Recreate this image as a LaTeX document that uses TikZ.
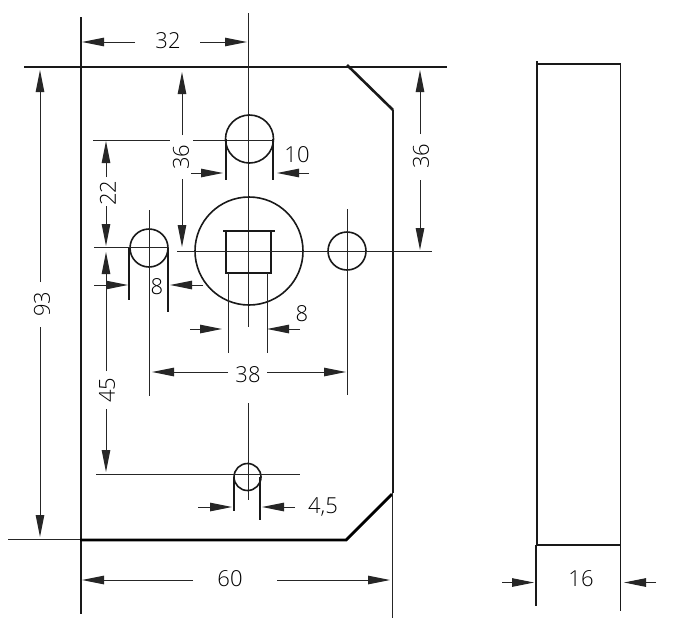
\documentclass[tikz,border=0pt]{standalone}
\usepackage{fontspec}
\setmainfont{Open Sans Light}[UprightFont=*]
\usetikzlibrary{arrows.meta}
\tikzset{
 thin line/.style={line width=1pt,black!85},
 outline/.style={line width=2pt,black!90},
 heavy/.style={line width=2.8pt,black},
 hole/.style={line width=1.6pt,black!90},
 dimarrow/.style={line width=1pt,black!85,-{Triangle[length=22pt,width=8.5pt]}},
 dimtext/.style={font=\fontsize{22}{22}\selectfont,inner sep=0pt,black},
}
\begin{document}
\begin{tikzpicture}[x=1pt,y=-1pt]
\useasboundingbox (0,0) rectangle (676,633);
\fill[white] (0,0) rectangle (676,633);
\draw[outline] (24,66.5) -- (447,66.5);
\draw[outline] (80.5,17) -- (80.5,614);
\draw[outline,line width=2.6pt,line join=round] (347,65) -- (393,110);
\draw[outline] (393,110) -- (393,493);
\draw[heavy] (392,494) -- (346,540) -- (80,540);
\draw[thin line] (8,539.5) -- (80,539.5);
\draw[thin line] (392.5,493) -- (392.5,618);
\draw[thin line] (248.5,13) -- (248.5,327);
\draw[thin line] (248,403) -- (248,500);
\draw[hole] (249.5,139) circle (24);
\draw[hole] (249,251) circle (54);
\draw[hole] (149,248) circle (19);
\draw[hole] (347,251) circle (19);
\draw[hole] (247.5,477) circle (13.5);
\draw[hole,line width=2pt] (223,231) -- (275,231);
\draw[hole,line width=2pt] (226,231) -- (226,273) -- (271,273) -- (271,231);
\draw[thin line] (228,273) -- (228,353);
\draw[thin line] (267,273) -- (267,353);
\draw[thin line] (177,251) -- (432,251);
\draw[thin line] (94,247.5) -- (168,247.5);
\draw[thin line] (93,140) -- (170,140);
\draw[thin line] (193,140) -- (273,140);
\draw[thin line] (96,474) -- (300,474);
\draw[thin line] (149,210) -- (149,396);
\draw[thin line] (347,209) -- (347,395);
\draw[hole,line width=1.3pt] (226,139) -- (226,180);
\draw[hole,line width=1.3pt] (273,139) -- (273,180);
\draw[hole,line width=1.3pt] (129,248) -- (129,300);
\draw[hole,line width=1.3pt] (168,248) -- (168,312);
\draw[hole,line width=1.3pt] (234,477) -- (234,511);
\draw[hole,line width=1.3pt] (260,477) -- (260,520);
% 32
\node[dimtext] (t32) at (168,41) {32};
\draw[dimarrow] (135,42) -- (82,42);
\draw[dimarrow] (200,42) -- (247,42);
% 36 left
\node[dimtext,rotate=90] (t36a) at (181,157) {36};
\draw[dimarrow] (182,135) -- (182,72);
\draw[dimarrow] (182,179) -- (182,247);
% 36 right
\node[dimtext,rotate=90] (t36b) at (421,156) {36};
\draw[dimarrow] (420,134) -- (420,70);
\draw[dimarrow] (420,180) -- (420,250);
% 22
\node[dimtext,rotate=90] (t22) at (108,193) {22};
\draw[dimarrow] (106,177) -- (106,141);
\draw[dimarrow] (106,206) -- (106,246);
% 45
\node[dimtext,rotate=90] (t45) at (107,390) {45};
\draw[dimarrow] (106,371) -- (106,252);
\draw[dimarrow] (106,409) -- (106,472);
% 10
\node[dimtext] (t10) at (297,155) {10};
\draw[dimarrow] (191,173) -- (223,173);
\draw[dimarrow] (309,173) -- (277,173);
% 8 left
\node[dimtext] (t8a) at (157,287) {8};
\draw[dimarrow] (94,285) -- (128,285);
\draw[dimarrow] (203,285) -- (170,285);
% 8 lower
\node[dimtext] (t8b) at (302,314) {8};
\draw[dimarrow] (190,329) -- (222,329);
\draw[dimarrow] (300,329) -- (267,329);
% 38
\node[dimtext] (t38) at (248,375) {38};
\draw[dimarrow] (228,372) -- (152,372);
\draw[dimarrow] (267,372) -- (346,372);
% 4,5
\node[dimtext] (t45b) at (323,507) {4,5};
\draw[dimarrow] (198,507) -- (232,507);
\draw[dimarrow] (295,507) -- (262,507);
% 60
\node[dimtext] (t60) at (230,579) {60};
\draw[dimarrow] (193,580) -- (82,580);
\draw[dimarrow] (277,580) -- (390,580);
% 93
\node[dimtext,rotate=90] (t93) at (42,304) {93};
\draw[dimarrow] (40,282) -- (40,70);
\draw[dimarrow] (40,327) -- (40,537);
% side view
\draw[outline] (537,64) -- (620.5,64);
\draw[line width=1.5pt,black!90] (537,61) -- (537,545);
\draw[line width=1.5pt,black!90] (536,545) -- (536,606);
\draw[line width=1.2pt,black!90] (620.5,63) -- (620.5,611);
\draw[outline] (536,544.5) -- (621,544.5);
\node[dimtext] (t16) at (581,579) {16};
\draw[dimarrow] (502,582.5) -- (534,582.5);
\draw[dimarrow] (656,582.5) -- (624,582.5);
\end{tikzpicture}
\end{document}
